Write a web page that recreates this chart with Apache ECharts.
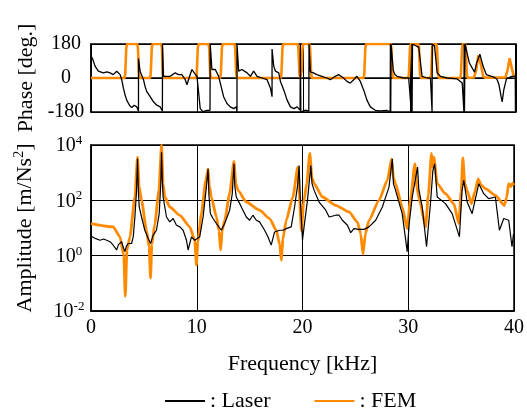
<!DOCTYPE html>
<html><head><meta charset="utf-8">
<script src="https://cdn.jsdelivr.net/npm/echarts@6/dist/echarts.min.js"></script>
<style>html,body{margin:0;padding:0;background:#fff}#c{width:527px;height:410px}</style>
</head><body><div id="c"></div>
<script>
// Frequency axis ticks (kHz)
const freqTicks = [0, 10, 20, 30, 40];
const phaseTicks = [-180, 0, 180];
const ampTickExponents = [-2, 0, 2, 4];

// Laser amplitude [m/Ns^2]
const laserAmpF = [0,0.4,0.85,1.2,1.48,1.8,2.1,2.42,2.6,2.89,3.05,3.21,3.35,3.52,3.84,4.0,4.15,4.3,4.4,4.48,4.56,4.78,5.09,5.41,5.63,5.88,6.19,6.45,6.6,6.67,6.75,6.82,7.14,7.45,7.77,8.08,8.4,8.71,9.03,9.18,9.5,9.81,9.97,10.28,10.6,10.91,11.07,11.15,11.29,11.54,11.86,12.33,12.64,13.11,13.36,13.52,13.6,13.74,14.06,14.37,14.69,15.0,15.31,15.63,15.94,16.42,16.73,17.04,17.36,17.83,18.14,18.46,18.93,19.25,19.56,19.68,19.8,20.0,20.2,20.47,20.79,20.9,21.1,21.57,22.2,22.52,23.14,23.46,23.77,24.25,24.56,24.87,25.35,25.82,26.29,26.92,27.55,28.18,28.49,28.6,28.8,29.43,29.9,30.1,30.38,30.88,31.0,31.32,31.73,32.1,32.33,32.5,32.74,33.52,34.15,34.84,35.09,35.25,35.57,36.04,36.67,37.14,37.6,38.24,38.4,38.62,39.03,39.5,39.81,39.95];
const laserAmp = [5.1,4.2,3.6,4,3.6,3.2,2.4,1.6,2.5,3.2,2,1.4,2.2,2.75,2.75,5,25,200,3160,200,57.5,25,8.3,4.2,2.75,5.5,8.3,33,400,5500,500,132,25,16.6,22,12.6,11,8.3,3.6,1.6,4.8,3.6,4.2,4.8,25,300,1380,158,33,22,14.5,8.3,14.5,44,174,2090,316,132,76,44,25,19,29,19,16.6,8.3,4.8,2.4,7.2,8.3,8.3,9.5,11,57.5,400,1820,100,3.6,16,100,1820,400,229,87,44,25,29,29,19,12.6,6.8,9.5,8.9,8.9,11,19,57.5,300,3160,400,229,33,1.4,16,132,1585,251,57.5,2.1,76,1200,2090,132,76,33,4.8,229,525,87,33,400,174,115,132,132,8.3,22,19,2.1,6];

// FEM amplitude [m/Ns^2]
const femAmpF = [0,2.1,2.74,3.1,3.24,3.4,3.68,4.15,4.4,4.55,4.78,5.25,5.5,5.63,5.75,6.04,6.42,6.67,6.82,6.98,7.45,8.4,9.34,9.81,9.97,10.1,10.44,10.85,11.07,11.2,11.38,11.86,12.1,12.26,12.4,12.64,13.11,13.52,13.7,13.9,14.69,15.94,16.89,17.52,17.85,17.99,18.15,18.46,19.09,19.56,19.7,19.9,20.1,20.4,20.69,20.9,21.1,21.89,23.14,24.4,25.19,25.5,25.72,25.95,26.29,27.23,28.02,28.43,28.6,28.8,29.43,29.9,30.2,30.63,30.8,31.07,31.64,31.9,32.2,32.3,32.42,32.74,33.52,34.31,34.78,35.0,35.16,35.35,35.57,35.97,36.3,36.6,36.9,37.3,38.24,39.09,39.3,39.5,39.7,39.87,40];
const femAmp = [14.5,11,4.8,1.0,0.034,1.6,4.8,132,3630,316,100,8.3,2,0.155,2.5,14.5,229,9800,400,132,57.5,28.8,11,3.6,0.46,3.16,33,525,1380,316,132,25,8,1.6,8,19,174,2570,400,229,87,44,22,8.3,2.5,0.69,4,19,132,1585,158,8,80,400,5000,630,400,132,66,38,16.6,6.3,1.15,6.3,19,100,525,3160,630,400,57.5,9.5,100,2090,316,100,11,158,5000,1585,3630,400,174,76,14.5,200,3390,400,229,76,200,600,355,263,151,66,126,400,316,417,355];

// Laser phase [deg.]
const laserPhF = [0.02,0.16,0.38,0.69,1.16,1.5,1.79,2.1,2.42,2.74,2.89,3.05,3.21,3.36,3.62,3.84,4.06,4.31,4.47,4.47,4.62,4.78,4.94,5.09,5.25,5.57,5.88,6.19,6.51,6.72,6.73,6.82,6.98,7.45,7.92,8.24,8.55,8.87,9.03,9.28,9.5,9.72,9.97,10.1,10.28,10.53,10.91,11.2,11.22,11.22,11.38,11.7,11.86,12.01,12.17,12.48,12.8,13.11,13.43,13.68,13.74,13.74,13.9,14.21,14.69,15.0,15.31,15.63,16.1,16.57,16.89,17.04,17.04,17.2,17.36,17.67,17.83,18.14,18.46,18.77,19.09,19.4,19.68,19.7,19.75,20.2,20.5,20.52,20.65,20.94,21.26,21.73,22.2,22.52,22.99,23.3,23.77,24.09,24.4,24.72,25.03,25.35,25.66,25.97,26.29,26.76,27.23,27.86,28.16,28.18,28.21,28.24,28.45,28.6,28.8,29.43,29.9,30.05,30.15,30.2,30.22,30.26,30.38,30.85,31.16,31.64,31.95,32.05,32.1,32.12,32.33,32.58,32.89,33.52,34.47,34.94,35.1,35.12,35.15,35.2,35.3,35.6,36.1,36.3,36.6,36.75,36.9,37.2,37.9,38.2,38.4,38.6,38.7,38.85,39.1,39.6,39.93,39.95,39.97,40];
const laserPh = [115,100,63,36,27,32,27,18,36,18,-9,-54,-90,-117,-144,-157,-144,-153,-175,103,36,27,-9,-45,-72,-99,-126,-144,-153,-175,180,9,18,9,27,18,18,-9,-36,9,45,27,9,-60,-162,-178,-171,-171,-180,180,45,45,36,9,-27,-99,-135,-153,-162,-153,-180,180,36,45,27,9,36,9,0,-9,-54,-99,153,63,36,27,-18,-63,-117,-153,-162,-153,-170,180,-180,-170,-175,180,33,27,18,9,0,-9,9,18,0,-18,-27,-9,9,-18,-63,-117,-153,-171,-174,-172,-178,180,-180,180,40,18,9,0,0,-10,-180,180,-180,180,171,162,9,0,0,-5,-180,180,171,27,9,0,-5,-27,-180,180,-180,180,170,81,31,81,126,117,63,18,5,-5,-36,-99,-126,-63,-5,9,9,-180,180,-180];

// FEM phase [deg.]
const femPhF = [0,3.15,3.22,3.27,3.32,3.4,4.35,4.42,4.47,4.52,4.6,5.55,5.62,5.67,5.72,5.8,6.6,6.67,6.72,6.77,6.85,9.88,9.95,10.0,10.05,10.13,11.05,11.12,11.17,11.22,11.3,12.15,12.22,12.27,12.32,12.4,13.5,13.57,13.62,13.67,13.75,17.85,17.92,17.97,18.02,18.1,19.45,19.52,19.57,19.62,19.7,19.78,19.83,19.88,19.95,20.55,20.62,20.67,20.72,20.8,25.65,25.72,25.77,25.82,25.9,28.2,28.27,28.32,28.37,28.45,29.85,29.92,29.97,30.02,30.1,30.8,30.87,30.92,30.97,31.05,31.95,32.02,32.07,32.12,32.2,32.5,32.57,32.62,32.67,32.75,34.75,34.82,34.87,34.92,35.0,35.2,35.27,35.32,35.37,35.45,36.05,36.25,36.45,36.55,36.7,36.9,37.1,39.0,39.2,39.4,39.5,39.65,39.8,40];
const femPh = [0,0,20,90,160,180,180,160,90,20,0,0,20,90,160,180,180,160,90,20,0,0,20,90,160,180,180,160,90,20,0,0,20,90,160,180,180,160,90,20,0,0,20,90,160,180,180,160,90,20,0,0,40,140,180,180,160,90,20,0,0,20,90,160,180,180,160,90,20,0,0,20,90,160,180,180,160,90,20,0,0,20,90,160,180,180,160,90,20,0,0,20,90,160,180,180,160,90,20,0,3,40,120,125,70,10,2,3,40,105,100,40,8,5];

const pairs = (xs, ys) => xs.map((x, i) => [x, ys[i]]);

const FONT = 'Liberation Serif';
const BLACK = '#000000';
const ORANGE = '#ff8a00';

const chart = echarts.init(document.getElementById('c'), null, {renderer: 'canvas'});
const tickFont = {fontFamily: FONT, fontSize: 20, color: BLACK};

chart.setOption({
  animation: false,
  backgroundColor: '#ffffff',
  grid: [
    {left: 91, right: 11, top: 44, height: 68, show: true, borderColor: BLACK, borderWidth: 1.5, backgroundColor: 'transparent'},
    {left: 91, right: 11, top: 145, height: 166, show: true, borderColor: BLACK, borderWidth: 1.5, backgroundColor: 'transparent'}
  ],
  legend: {
    data: ['Laser', 'FEM'],
    left: 160, top: 385,
    icon: 'rect', itemWidth: 40, itemHeight: 2, itemGap: 44,
    formatter: ': {name}',
    textStyle: {fontFamily: FONT, fontSize: 22, color: BLACK}
  },
  xAxis: [
    {gridIndex: 0, type: 'value', min: freqTicks[0], max: freqTicks[freqTicks.length - 1], interval: 10,
      axisLine: {show: true, lineStyle: {color: BLACK, width: 1.5}}, axisTick: {show: false},
      axisLabel: {show: false},
      splitLine: {show: true, lineStyle: {color: BLACK, width: 1}}},
    {gridIndex: 1, type: 'value', min: freqTicks[0], max: freqTicks[freqTicks.length - 1], interval: 10,
      axisLine: {show: true, lineStyle: {color: BLACK, width: 1.5}}, axisTick: {show: false},
      axisLabel: Object.assign({margin: 7}, tickFont),
      splitLine: {show: true, lineStyle: {color: BLACK, width: 1}},
      name: 'Frequency [kHz]', nameLocation: 'middle', nameGap: 42,
      nameTextStyle: {fontFamily: FONT, fontSize: 22, color: BLACK}}
  ],
  yAxis: [
    {gridIndex: 0, type: 'value', min: phaseTicks[0], max: phaseTicks[2], interval: 180,
      axisLine: {show: true, lineStyle: {color: BLACK, width: 1.5}}, axisTick: {show: false},
      axisLabel: Object.assign({margin: 25, align: 'center'}, tickFont),
      splitLine: {show: true, lineStyle: {color: BLACK, width: 1}},
      name: 'Phase [deg.]', nameLocation: 'middle', nameRotate: 90, nameGap: 53,
      nameTextStyle: {fontFamily: FONT, fontSize: 22, color: BLACK}},
    {gridIndex: 1, type: 'log', logBase: 10, min: 0.01, max: 10000, interval: 2,
      axisLine: {show: true, lineStyle: {color: BLACK, width: 1.5}}, axisTick: {show: false},
      axisLabel: {margin: 22, align: 'center',
        formatter: v => '{b|10}{s|' + Math.round(Math.log10(v)) + '}',
        rich: {
          b: {fontFamily: FONT, fontSize: 20, color: BLACK, lineHeight: 22, verticalAlign: 'bottom'},
          s: {fontFamily: FONT, fontSize: 13, color: BLACK, lineHeight: 22, verticalAlign: 'top'}
        }},
      splitLine: {show: true, lineStyle: {color: BLACK, width: 1}},
      name: '{a|Amplitude [m/Ns}{s|2}{a|]}', nameLocation: 'middle', nameRotate: 90, nameGap: 55,
      nameTextStyle: {rich: {
        a: {fontFamily: FONT, fontSize: 22, color: BLACK, lineHeight: 24, verticalAlign: 'bottom'},
        s: {fontFamily: FONT, fontSize: 14, color: BLACK, lineHeight: 24, verticalAlign: 'top'}
      }}}
  ],
  series: [
    {name: 'FEM', type: 'line', xAxisIndex: 0, yAxisIndex: 0, data: pairs(femPhF, femPh), showSymbol: false, symbol: 'none', color: ORANGE, lineStyle: {color: ORANGE, width: 2.6}, z: 2},
    {name: 'Laser', type: 'line', xAxisIndex: 0, yAxisIndex: 0, data: pairs(laserPhF, laserPh), showSymbol: false, symbol: 'none', color: BLACK, lineStyle: {color: BLACK, width: 1.3}, z: 3},
    {name: 'FEM', type: 'line', xAxisIndex: 1, yAxisIndex: 1, data: pairs(femAmpF, femAmp), showSymbol: false, symbol: 'none', smooth: 0.2, smoothMonotone: 'x', color: ORANGE, lineStyle: {color: ORANGE, width: 2.8}, z: 2},
    {name: 'Laser', type: 'line', xAxisIndex: 1, yAxisIndex: 1, data: pairs(laserAmpF, laserAmp), showSymbol: false, symbol: 'none', color: BLACK, lineStyle: {color: BLACK, width: 1.2}, z: 3}
  ]
});
</script></body></html>
